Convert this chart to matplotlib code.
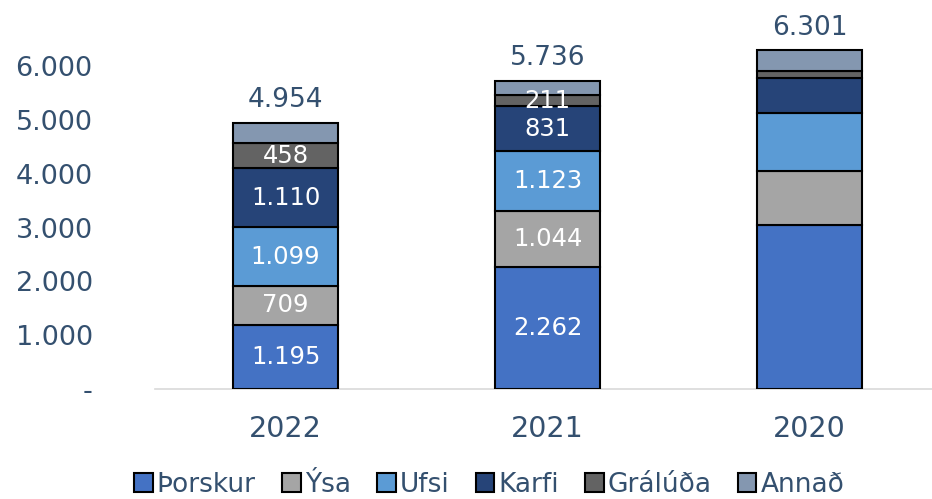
import matplotlib.pyplot as plt
import numpy as np

# data
years = ['2022', '2021', '2020']
species = ['Þorskur', 'Ýsa', 'Ufsi', 'Karfi', 'Grálúða', 'Annað']
thorskur = [1195, 2262, 3048]
ysa = [709, 1044, 1006]
ufsi = [1099, 1123, 1080]
karfi = [1110, 831, 652]
graluda = [458, 211, 130]
annad = [383, 265, 385]
totals = [4954, 5736, 6301]

colors = ['#4472C4', '#A5A5A5', '#5B9BD5', '#264478', '#636363', '#8497B0']
txt = '#34506F'


def fmt(v):
    return '{:,}'.format(v).replace(',', '.')


fig = plt.figure(figsize=(9.32, 4.99), dpi=100)
ax = fig.add_axes([154.5 / 932, 110.3 / 499, 786 / 932, 375.9 / 499])

x = np.arange(len(years))
series = [thorskur, ysa, ufsi, karfi, graluda, annad]
bottom = np.zeros(len(years))
for i, s in enumerate(series):
    ax.bar(x, s, 0.4, bottom=bottom, color=colors[i], edgecolor='black',
           linewidth=1.5, label=species[i], zorder=3)
    # white labels inside, not for the last year and not for Annað
    if i < 5:
        for j in range(2):
            ax.text(x[j], bottom[j] + s[j] / 2, fmt(s[j]), ha='center', va='center',
                    color='white', fontsize=17.5, zorder=4)
    bottom = bottom + np.array(s)

for j in range(len(years)):
    ax.text(x[j], totals[j] + 180, fmt(totals[j]), ha='center', va='bottom',
            color=txt, fontsize=19)

ax.set_xlim(-0.5, 2.5)
ax.set_ylim(0, 7000)
ax.set_yticks([0, 1000, 2000, 3000, 4000, 5000, 6000])
ax.set_yticklabels(['-'] + [fmt(v) for v in range(1000, 7000, 1000)])
ax.set_xticks(x)
ax.set_xticklabels(years)
ax.tick_params(axis='y', length=0, labelsize=19.5, labelcolor=txt, pad=44.5)
ax.tick_params(axis='x', length=0, labelsize=20.5, labelcolor=txt, pad=19)
for sp in ['top', 'right', 'left']:
    ax.spines[sp].set_visible(False)
ax.spines['bottom'].set_color('#D9D9D9')
ax.spines['bottom'].set_linewidth(1.2)

leg = fig.legend(loc='lower center', bbox_to_anchor=(0.525, -0.045), ncol=6, frameon=False,
                 fontsize=19, handlelength=0.7, handleheight=0.7, handletextpad=0.15,
                 columnspacing=1.0)
for t in leg.get_texts():
    t.set_color(txt)

fig.savefig('out.png', dpi=100)
